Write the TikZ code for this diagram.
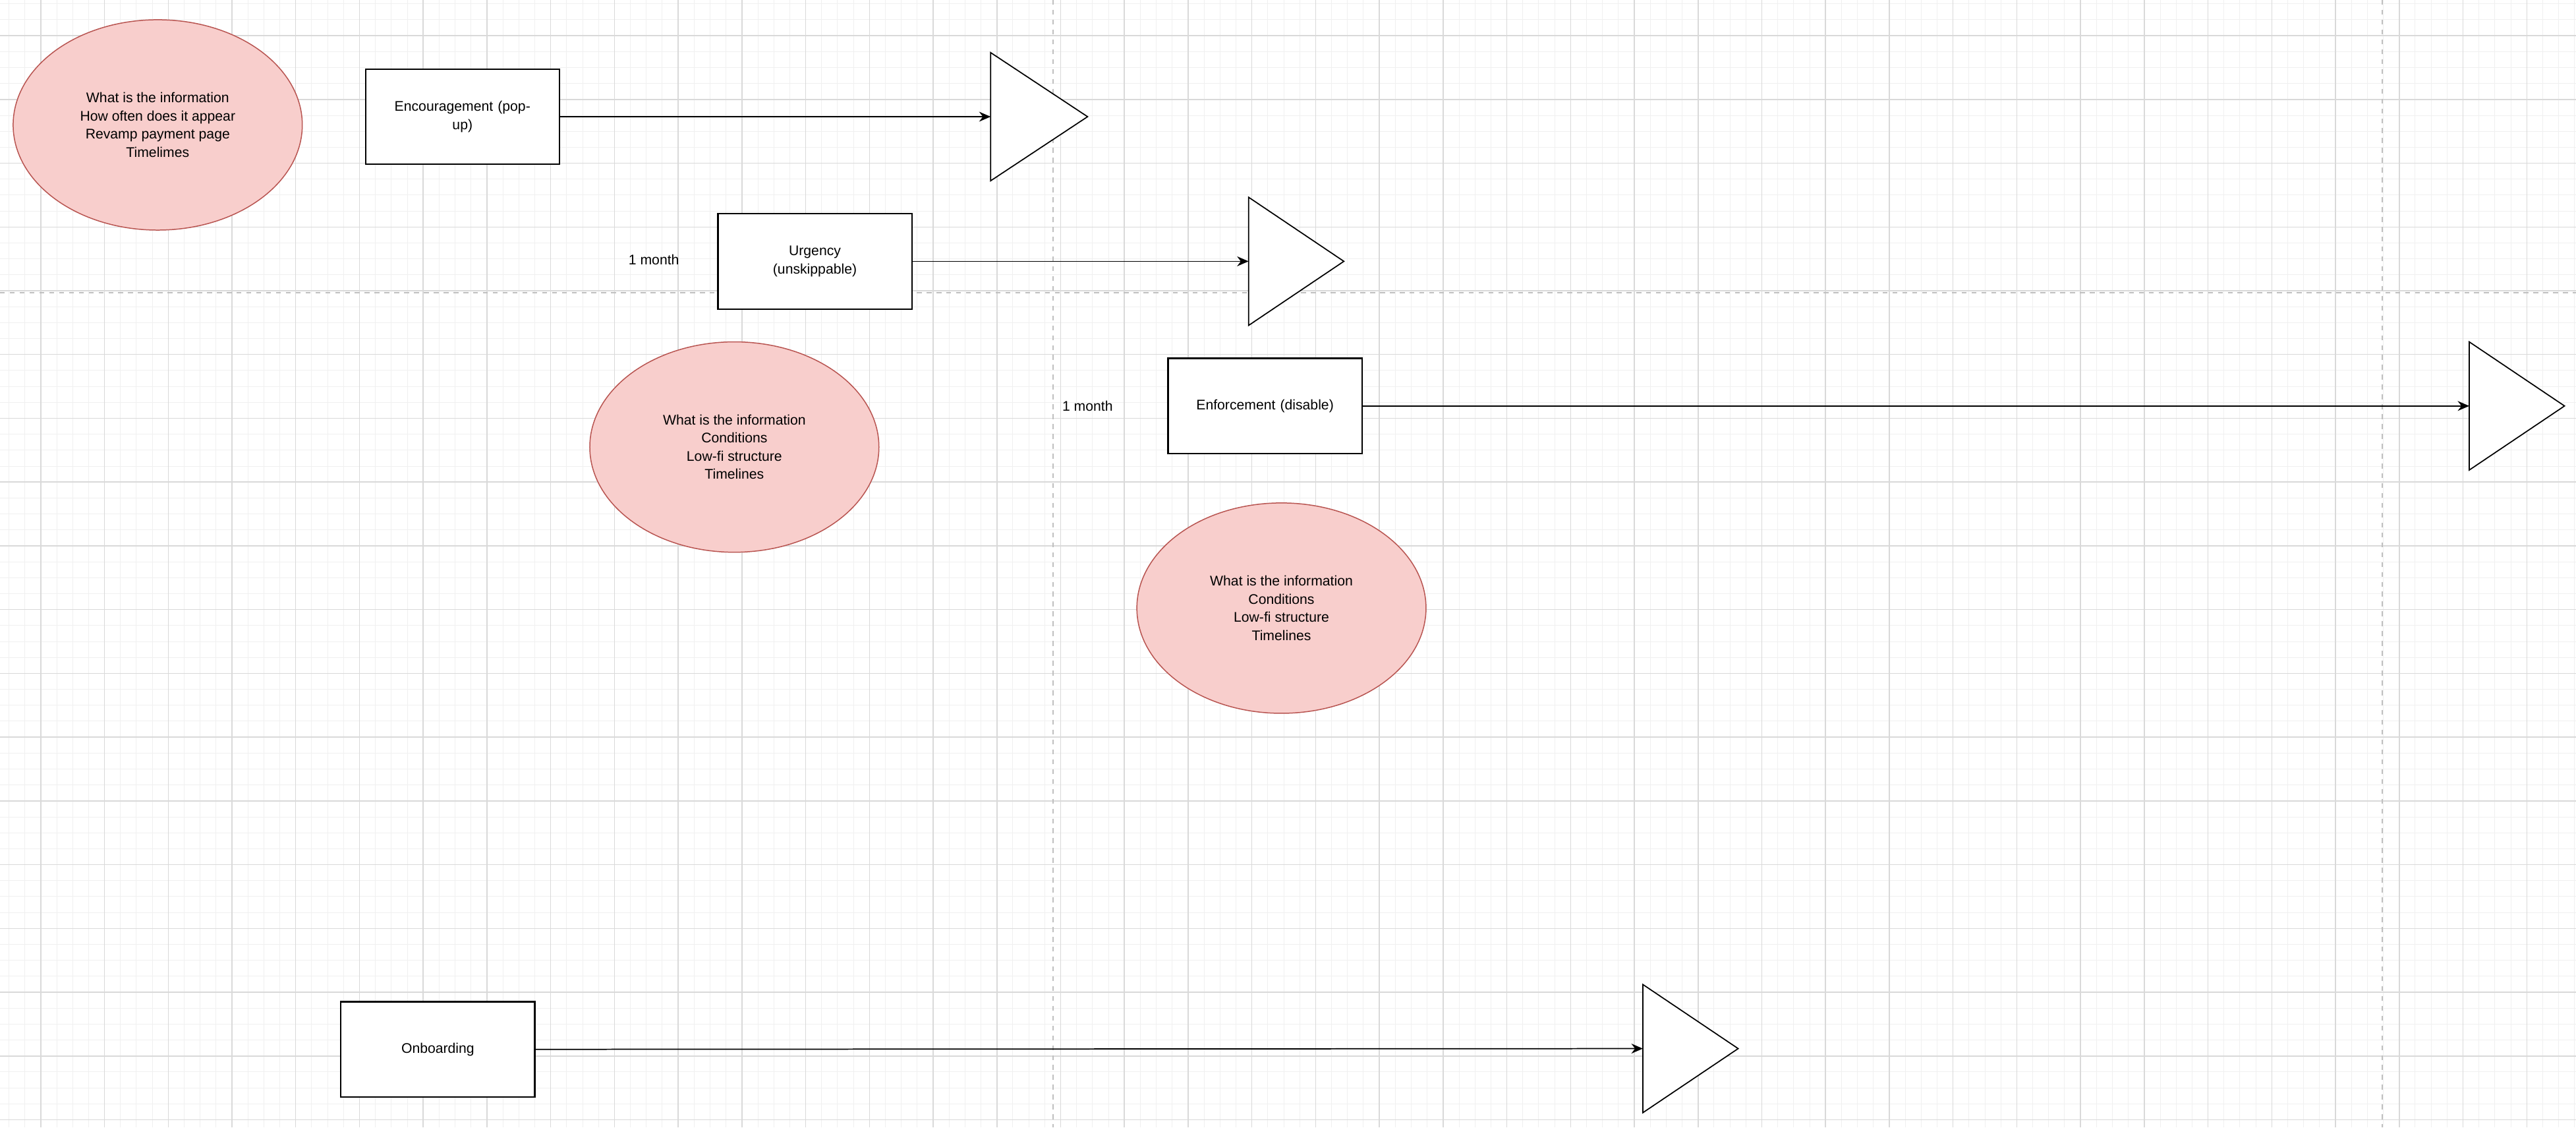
\documentclass[tikz,border=0pt]{standalone}
\usepackage{fontspec}
\setmainfont{Liberation Sans}
\usetikzlibrary{arrows.meta,shapes.geometric}
\begin{document}
\begin{tikzpicture}[x=1pt,y=-1pt,
  note/.style={ellipse,draw={rgb,255:red,184;green,84;blue,80},fill={rgb,255:red,248;green,206;blue,204},line width=0.6pt,minimum width=176pt,minimum height=128pt,inner sep=0pt,align=center,font=\fontsize{8.5}{11}\selectfont},
  box/.style={draw=black,line width=0.9pt,fill=white,minimum width=118pt,minimum height=58pt,align=center,text width=114pt,inner sep=0pt,font=\fontsize{8.5}{11}\selectfont},
  lbl/.style={font=\fontsize{8.5}{11}\selectfont},
  tri/.style={draw=black,line width=0.7pt,fill=white},
  conn/.style={-{Stealth[length=7pt,width=6pt]},line width=0.7pt}]
\useasboundingbox (0,0) rectangle (1568,686);
\fill[white] (0,0) rectangle (1568,686);
% minor grid
\foreach \i in {-2,...,162} \draw[black!6,line width=0.4pt] ({24.8+9.7*\i},0) -- ({24.8+9.7*\i},686);
\foreach \i in {-2,...,72} \draw[black!6,line width=0.4pt] (0,{21.7+9.7*\i}) -- (1568,{21.7+9.7*\i});
% major grid
\foreach \i in {0,...,40} \draw[black!15,line width=0.6pt] ({24.8+38.8*\i},0) -- ({24.8+38.8*\i},686);
\foreach \i in {0,...,17} \draw[black!15,line width=0.6pt] (0,{21.7+38.8*\i}) -- (1568,{21.7+38.8*\i});
\draw[black!25,dashed,line width=0.8pt] (641,0) -- (641,686);
\draw[black!25,dashed,line width=0.8pt] (1450,0) -- (1450,686);
\draw[black!25,dashed,line width=0.8pt] (0,178) -- (1568,178);
% ellipses
\node[note] (n1) at (96,76) {What is the information\\How often does it appear\\Revamp payment page\\Timelimes};
\node[note] (n2) at (447,272) {What is the information\\Conditions\\Low-fi structure\\Timelines};
\node[note] (n3) at (780,370) {What is the information\\Conditions\\Low-fi structure\\Timelines};
% boxes
\node[box] (b1) at (281.5,71) {Encouragement (pop-\\up)};
\node[box] (b2) at (496,159) {Urgency\\(unskippable)};
\node[box] (b3) at (770,247) {Enforcement (disable)};
\node[box] (b4) at (266.5,638.5) {Onboarding};
\node[lbl] (m1) at (398,158) {1 month};
\node[lbl] (m2) at (662,247) {1 month};
% triangles
\draw[tri] (603,32) -- (662,71) -- (603,110) -- cycle; \coordinate (t1) at (603,71);
\draw[tri] (760,120) -- (818,159) -- (760,198) -- cycle; \coordinate (t2) at (760,159);
\draw[tri] (1503,208) -- (1561,247) -- (1503,286) -- cycle; \coordinate (t3) at (1503,247);
\draw[tri] (1000,599) -- (1058,638) -- (1000,677) -- cycle; \coordinate (t4) at (1000,638);
\draw[conn] (b1) -- (t1);
\draw[conn] (b2) -- (t2);
\draw[conn] (b3) -- (t3);
\draw[conn] (b4) -- (t4);
\end{tikzpicture}
\end{document}
